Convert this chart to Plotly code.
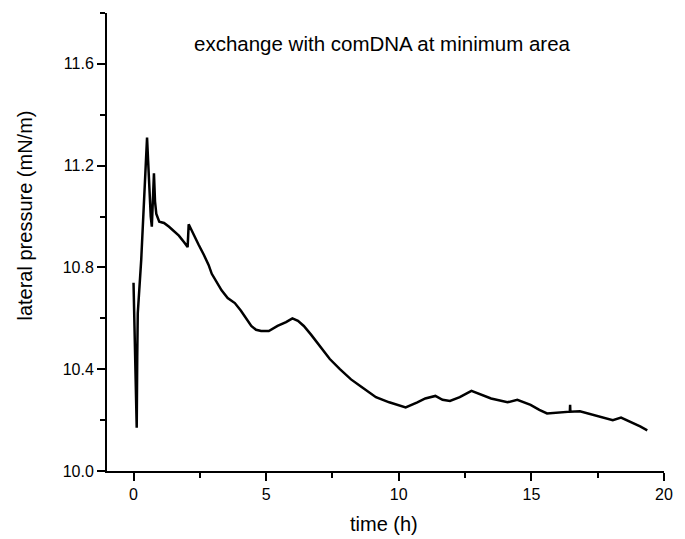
import plotly.graph_objects as go

# time (h) and lateral pressure (mN/m) of the exchange run
time_h = [0.0, 0.03, 0.09, 0.12, 0.14, 0.16, 0.29, 0.41, 0.47, 0.51, 0.55, 0.59,
          0.65, 0.69, 0.73, 0.77, 0.81, 0.86, 0.97, 1.15, 1.34, 1.55, 1.71, 1.9,
          2.04, 2.08, 2.25, 2.45, 2.65, 2.83, 2.95, 3.15, 3.32, 3.55, 3.82, 4.05,
          4.25, 4.44, 4.62, 4.81, 5.1, 5.43, 5.75, 5.99, 6.2, 6.42, 6.7, 7.04,
          7.4, 7.78, 8.2, 8.6, 9.0, 9.14, 9.64, 10.0, 10.26, 10.7, 11.0, 11.38,
          11.65, 11.93, 12.3, 12.74, 13.1, 13.48, 14.1, 14.47, 14.97, 15.3, 15.59,
          16.09, 16.45, 16.46, 16.47, 16.83, 17.2, 17.57, 18.07, 18.38, 18.81,
          19.1, 19.37]
pressure = [10.74, 10.6, 10.25, 10.17, 10.45, 10.62, 10.83, 11.09, 11.22, 11.31,
            11.22, 11.11, 11.0, 10.96, 11.06, 11.17, 11.06, 11.01, 10.98, 10.975,
            10.96, 10.94, 10.925, 10.9, 10.88, 10.97, 10.93, 10.89, 10.85, 10.81,
            10.775, 10.74, 10.71, 10.68, 10.66, 10.63, 10.6, 10.57, 10.555, 10.55,
            10.55, 10.57, 10.585, 10.60, 10.59, 10.57, 10.535, 10.49, 10.44, 10.40,
            10.36, 10.33, 10.30, 10.29, 10.27, 10.26, 10.25, 10.27, 10.285, 10.295,
            10.28, 10.275, 10.29, 10.315, 10.30, 10.285, 10.27, 10.28, 10.26, 10.24,
            10.226, 10.23, 10.233, 10.26, 10.233, 10.235, 10.225, 10.216, 10.20,
            10.21, 10.19, 10.175, 10.16]

x_ticks = [0, 5, 10, 15, 20]
x_minor_ticks = [2.5, 7.5, 12.5, 17.5]
y_ticks = [10.0, 10.4, 10.8, 11.2, 11.6]
y_tick_text = ["10.0", "10.4", "10.8", "11.2", "11.6"]
y_minor_ticks = [10.2, 10.6, 11.0, 11.4, 11.8]

X_RANGE = [-1, 20]
Y_RANGE = [10.0, 11.8]
FONT = "Liberation Sans, Arial, sans-serif"

fig = go.Figure()
fig.add_trace(go.Scatter(x=time_h, y=pressure, mode="lines",
                         line=dict(color="black", width=2.5), showlegend=False))

tick_style = dict(ticks="outside", ticklen=8, tickwidth=2, tickcolor="black",
                  showgrid=False, zeroline=False, showline=True,
                  linecolor="black", linewidth=2,
                  tickfont=dict(family=FONT, size=16, color="black"))
minor_style = dict(tickmode="array", ticks="outside", ticklen=5,
                   tickwidth=2, tickcolor="black", showgrid=False)

fig.update_xaxes(range=X_RANGE, tickvals=x_ticks,
                 minor=dict(tickvals=x_minor_ticks, **minor_style), **tick_style)
fig.update_yaxes(range=Y_RANGE, tickvals=y_ticks, ticktext=y_tick_text,
                 minor=dict(tickvals=y_minor_ticks, **minor_style), **tick_style)

fig.add_annotation(text="exchange with comDNA at minimum area",
                   xref="paper", yref="paper", x=0.494, y=0.934,
                   xanchor="center", yanchor="middle",
                   showarrow=False, font=dict(family=FONT, size=20.5, color="black"))
fig.add_annotation(text="time (h)", xref="paper", yref="paper",
                   x=0.498, y=-0.116, xanchor="center", yanchor="middle",
                   showarrow=False, font=dict(family=FONT, size=20, color="black"))
fig.add_annotation(text="lateral pressure (mN/m)", xref="paper", yref="paper",
                   x=-0.147, y=0.558, xanchor="center", yanchor="middle",
                   textangle=-90, showarrow=False,
                   font=dict(family=FONT, size=20, color="black"))

fig.update_layout(width=685, height=539,
                  margin=dict(l=107, r=13, t=13, b=68),
                  plot_bgcolor="white", paper_bgcolor="white")

fig.write_html("out.html")
